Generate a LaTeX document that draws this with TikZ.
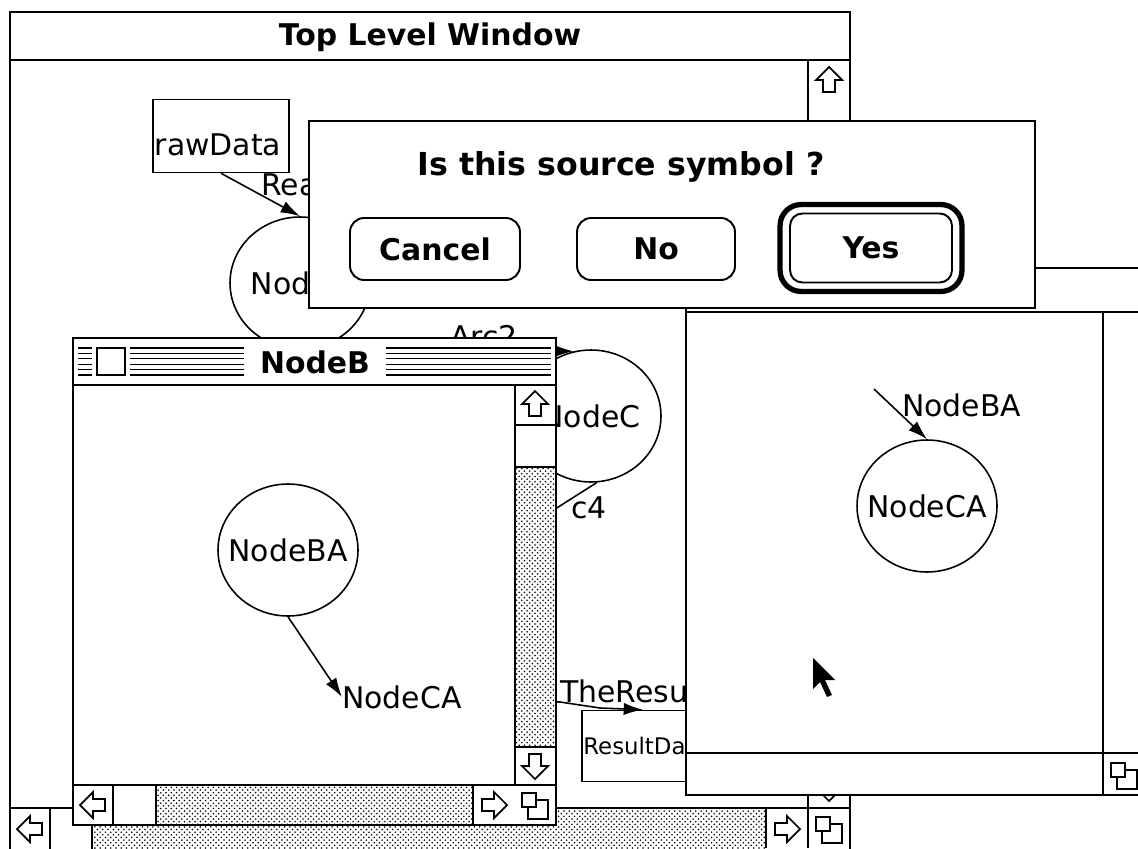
\documentclass[tikz,border=0pt]{standalone}
\usepackage{fontspec}
\setmainfont{DejaVu Sans}
\usetikzlibrary{arrows.meta,patterns,shapes.geometric}

% scroll bar arrow (centre x, centre y, turn) and grow box
\newcommand{\scrollglyph}[3]{%
  \draw[icon, fill=white, shift={(#1,#2)}, rotate=#3]
    (0,-13) -- (13,0) -- (6,0) -- (6,12) -- (-6,12) -- (-6,0) -- (-13,0) -- cycle;}
\newcommand{\growglyph}[2]{%
  \draw[icon, shift={(#1,#2)}] (-7,-5) rectangle (13,14);
  \draw[icon, fill=white, shift={(#1,#2)}] (-13,-12) rectangle (1,2);}

\begin{document}
\begin{tikzpicture}[x=0.02cm, y=-0.02cm,
    winline/.style={line width=1.1pt},
    icon/.style={line width=1pt},
    track/.style={pattern=crosshatch dots},
    titletext/.style={font=\fontsize{17}{20}\selectfont\bfseries, inner sep=1pt},
    nodelbl/.style={font=\fontsize{17}{20}\selectfont, inner sep=0pt},
    bubble/.style={draw, ellipse, line width=0.9pt, minimum width=2.8cm, minimum height=2.64cm,
        inner sep=0pt, label={[nodelbl]center:#1}},
    databox/.style={draw, line width=0.9pt, inner sep=0pt},
    arc/.style={line width=0.9pt, -{Latex[length=11pt,width=7pt]}},
    button/.style={draw, line width=1.1pt, rounded corners=8pt, minimum height=1.24cm,
        font=\fontsize{17}{20}\selectfont\bfseries}]

    \useasboundingbox (0,0) rectangle (1138,848);
    \clip (0,0) rectangle (1138,848);
    \fill[white] (0,0) rectangle (1138,848);

    % Top level window
    \draw[winline, fill=white] (10,12) rectangle (850,870);
    \draw[winline] (10,60) -- (850,60);
    \node[titletext] (toptitle) at (430,37) {Top Level Window};
    \draw[winline] (808,60) -- (808,808);
    \scrollglyph{829}{80}{0}
    \draw[winline] (808,768) -- (850,768);
    \scrollglyph{829}{788}{180}
    \fill[track] (92,808) rectangle (766,848);
    \draw[winline] (10,808) -- (850,808);
    \draw[winline] (50,808) rectangle (92,852);
    \draw[winline] (766,808) -- (766,848);
    \draw[winline] (808,808) -- (808,848);
    \scrollglyph{30}{829}{90}
    \scrollglyph{787}{829}{-90}
    \growglyph{829}{829}

    % Its graph
    \node[databox, minimum width=2.72cm, minimum height=1.46cm] (rawdata) at (221,136) {};
    \node[nodelbl] (rawtxt) at (218,145) {rawData};
    \node[bubble=NodeA] (nodeA) at (300,283) {};
    \draw[arc] (rawdata.south) -- (nodeA.north);
    \node[nodelbl, anchor=west] (readlbl) at (261,184) {Read};
    \node[bubble=NodeC] (nodeC) at (591,416) {};
    \draw[arc] (nodeA.-80) -- (nodeC.105);
    \node[nodelbl, anchor=base west] (arc2lbl) at (450,347) {Arc2};
    \coordinate (c4end) at (500,544);
    \draw[line width=0.9pt] (nodeC.-85) -- (c4end);
    \node[nodelbl, anchor=base west] (c4lbl) at (571,518) {c4};
    \node[databox, minimum width=2.44cm, minimum height=1.42cm] (resultdata) at (643,746) {};
    \node[font=\fontsize{13}{15}\selectfont, anchor=west, inner sep=1pt] (resulttxt)
        at (resultdata.west) {ResultData};
    \coordinate (resfrom) at (480,700);
    \draw[arc] (resfrom) -- (560,702) -- (600,708) -- (resultdata.north);
    \node[nodelbl, anchor=base west] (reslbl) at (560,702) {TheResult};

    % Right window
    \draw[winline, fill=white] (686,268) rectangle (1160,795);
    \draw[winline] (686,312) -- (1160,312);
    \draw[winline] (1103,312) -- (1103,795);
    \draw[winline] (686,753) -- (1160,753);
    \growglyph{1124}{775}
    \node[bubble=NodeCA] (nodeCA) at (927,506) {};
    \coordinate (bafree) at (874,389);
    \draw[arc] (bafree) -- (nodeCA.north);
    \node[nodelbl, anchor=west] (balbl) at (902,405) {NodeBA};

    % NodeB window (active)
    \draw[winline, fill=white] (73,338) rectangle (556,825);
    \draw[winline] (73,385) -- (556,385);
    \foreach \k in {0,...,5} {
        \draw[line width=0.6pt] (78,{348+5.4*\k}) -- (551,{348+5.4*\k});
    }
    \fill[white] (92,344) rectangle (130,379);
    \draw[icon, fill=white] (97,348) rectangle (125,375);
    \node[titletext, fill=white, inner xsep=9pt, inner ysep=0pt, minimum height=0.7cm]
        (btitle) at (315,362) {NodeB};
    \fill[track] (515,467) rectangle (556,747);
    \draw[winline] (515,385) -- (515,785);
    \draw[winline] (515,425) rectangle (556,467);
    \draw[winline] (515,747) -- (556,747);
    \scrollglyph{535}{404}{0}
    \scrollglyph{535}{766}{180}
    \fill[track] (156,785) rectangle (473,825);
    \draw[winline] (73,785) -- (556,785);
    \draw[winline] (113,785) rectangle (156,825);
    \draw[winline] (473,785) -- (473,825);
    \scrollglyph{93}{805}{90}
    \scrollglyph{494}{805}{-90}
    \growglyph{535}{805}
    \node[bubble=NodeBA] (nodeBA) at (288,550) {};
    \node[nodelbl, anchor=west] (calbl) at (342,697) {NodeCA};
    \draw[arc] (nodeBA.south) -- (calbl.west);

    % Dialog
    \draw[winline, fill=white] (309,121) rectangle (1035,308);
    \node[titletext, font=\fontsize{18}{21}\selectfont\bfseries] (prompt) at (621,167)
        {Is this source symbol ?};
    \node[button, minimum width=3.4cm] (cancel) at (435,249) {Cancel};
    \node[button, minimum width=3.16cm] (no) at (656,249) {No};
    \node[button, minimum width=3.24cm, minimum height=1.38cm, rounded corners=7pt] (yes)
        at (871,248) {Yes};
    \draw[line width=3pt, rounded corners=12pt] ([shift={(-9,-8)}]yes.north west)
        rectangle ([shift={(9,8)}]yes.south east);

    % Mouse pointer
    \fill (813,658) -- (813,689) -- (820,682) -- (827,697) -- (832,695) -- (825,680)
        -- (835,680) -- cycle;
\end{tikzpicture}
\end{document}
